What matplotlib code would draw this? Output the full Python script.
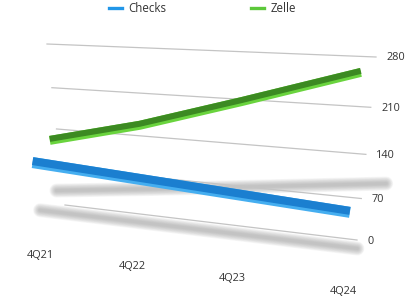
import numpy as np
import matplotlib
matplotlib.use("Agg")
import matplotlib.pyplot as plt
from matplotlib.transforms import Transform, Affine2D
from matplotlib.lines import Line2D

# ---------------- data ----------------
categories = ["4Q21", "4Q22", "4Q23", "4Q24"]
checks = [116, 104, 92, 80]
zelle = [134, 172, 220, 270]
y_ticks = [0, 70, 140, 210, 280]

# ---------------- styles ----------------
plt.rcParams["font.family"] = ["Open Sans", "DejaVu Sans"]
W, H = 408, 298
fig = plt.figure(figsize=(W / 100, H / 100), dpi=100)
ax = fig.add_axes([0, 0, 1, 1])
ax.set_xlim(0, W)
ax.set_ylim(H, 0)
ax.axis("off")

PX = 0.72  # points per pixel


def homography(src, dst):
    A, b = [], []
    for (x, y), (u, v) in zip(src, dst):
        A.append([x, y, 1, 0, 0, 0, -u * x, -u * y]); b.append(u)
        A.append([0, 0, 0, x, y, 1, -v * x, -v * y]); b.append(v)
    h = np.linalg.solve(np.array(A, float), np.array(b, float))
    return np.append(h, 1).reshape(3, 3)


# back-wall perspective: (category index, value) -> pixel
vmax = y_ticks[-1]
n = len(categories) - 1
HW = homography([(0, vmax), (n, vmax), (n, 0), (0, 0)],
                [(47, 44), (376, 57), (357, 240), (65, 205)])


class Persp(Transform):
    input_dims = 2
    output_dims = 2
    is_separable = False
    has_inverse = False

    def __init__(self, Hm, sx=1.0, dx=0.0, dy=0.0, cx=204.0):
        super().__init__()
        self.Hm, self.sx, self.dx, self.dy, self.cx = Hm, sx, dx, dy, cx

    def transform_non_affine(self, values):
        v = np.asarray(values, float)
        p = np.c_[v, np.ones(len(v))] @ self.Hm.T
        p = p[:, :2] / p[:, 2:3]
        p[:, 0] = self.cx + self.sx * (p[:, 0] - self.cx) + self.dx
        p[:, 1] = p[:, 1] + self.dy
        return p


wall = Persp(HW)
t_zelle = Persp(HW, sx=0.977, dx=-10.5, dy=8)
t_checks = Persp(HW, sx=1.044, dx=-19, dy=20)
t_labels = Persp(HW, sx=1.038, dx=-19.8, dy=51)

xs = np.arange(len(categories))

# ---------------- shadows ----------------
def shadow(values, base, aff):
    tr = base + aff + ax.transData
    for w in np.linspace(14, 3, 9):
        ax.plot(xs, values, transform=tr, color="#8a8a8a", alpha=0.07,
                lw=w * PX, solid_capstyle="round", zorder=1)

shadow(zelle, t_zelle,
       Affine2D().translate(-205, -106).scale(1.06, 0.103).translate(221, 187))
shadow(checks, t_checks,
       Affine2D().translate(-191, -187).scale(1.0, 0.77).translate(198.5, 229))

# ---------------- gridlines & tick labels ----------------
for v in y_ticks:
    ax.plot([0, n], [v, v], transform=wall + ax.transData,
            color="#c4c4c4", lw=0.9, zorder=2)
    ax.text(n, v, str(v), transform=wall + Affine2D().translate(10.5, 1) + ax.transData,
            ha="left", va="center", fontsize=7.8, color="#333333", zorder=5)

# ---------------- category labels ----------------
for i, c in enumerate(categories):
    ax.text(i, 0, c, transform=t_labels + ax.transData, ha="center", va="center",
            fontsize=7.8, color="#333333", zorder=5)

# ---------------- ribbons ----------------
def ribbon(values, tr, dark, light, total, face):
    base = tr + ax.transData
    ax.plot(xs, values, transform=base, color=light, lw=total * PX,
            solid_capstyle="butt", solid_joinstyle="round", zorder=3)
    off = (total - face) / 2.0
    ax.plot(xs, values, transform=base + Affine2D().translate(0, off),
            color=dark, lw=face * PX, solid_capstyle="butt",
            solid_joinstyle="round", zorder=4)

ribbon(checks, t_checks, "#1b7fd0", "#45aef0", 11, 8)
ribbon(zelle, t_zelle, "#3c8a22", "#6ad43e", 9, 6)

# ---------------- legend ----------------
handles = [Line2D([], [], color="#2196e8", lw=2.4),
           Line2D([], [], color="#5cc83a", lw=2.4)]
fig.legend(handles, ["Checks", "Zelle"], loc="center", ncol=2, frameon=False,
           bbox_to_anchor=(202.5 / W, 1 - 8.5 / H), fontsize=8.3,
           handlelength=1.13, handletextpad=0.53, columnspacing=7.4,
           borderpad=0, labelcolor="#333333")

fig.savefig("out.png", dpi=100)
